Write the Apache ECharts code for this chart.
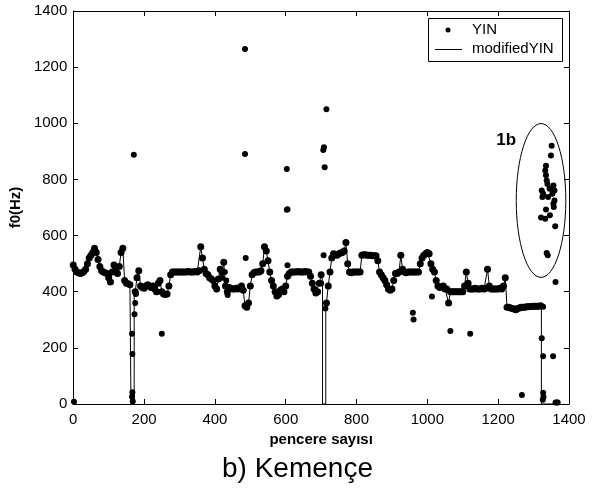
<!DOCTYPE html>
<html>
<head>
<meta charset="utf-8">
<script src="https://cdn.jsdelivr.net/npm/echarts@6/dist/echarts.min.js"></script>
<style>
  html, body { margin: 0; padding: 0; background: #fff; }
  #chart { width: 595px; height: 489px; }
</style>
</head>
<body>
<div id="chart"></div>
<script>
// YIN pitch track: one estimate every 5 frames (frame 0 .. 1320), Hz; null where the track drops out
const frameStep = 5;
const yinTrack = [
  495, 480, 470, 468, 465, 468, 472, 480, 500, 520,
  530, 540, 555, 540, 515, 490, 475, 470, 468, 465,
  450, 435, 470, 495, 480, 465, 490, 540, 555, 440,
  430, 428, 425, null, null, 400, 450, 475, 420, 415,
  412, 420, 425, 420, 415, 420, 410, 400, 430, 440,
  400, 392, 390, 392, 420, 460, 470, 470, 470, 470,
  470, 470, 470, 470, 470, 472, 470, 470, 470, 472,
  470, 475, 560, 520, 480, 465, 460, 450, 445, 440,
  420, 410, 445, 480, 470, 505, 420, 400, 415, 412,
  410, 410, 412, 410, 415, 420, 405, 350, 345, 360,
  420, 460, 468, 470, 470, 470, 475, 500, 560, 545,
  510, 470, 440, 420, 400, 385, 390, 405, 410, 400,
  420, 455, 465, 470, 470, 470, 470, 472, 470, 470,
  470, 472, 470, 470, 455, 430, 410, 395, 400, 430,
  460, null, null, 360, 420, 470, 520, 535, 532, 530,
  535, 538, 540, 545, 575, 500, 470, 468, 470, 470,
  470, 470, 470, 530, 532, 532, 530, 530, 530, 528,
  528, 528, 510, 470, 460, 450, 440, 425, 410, 405,
  410, 440, 465, 465, 470, 530, 480, 470, 468, 470,
  470, 470, 470, 470, 470, 470, 500, 520, 530, 535,
  540, 535, 500, 480, 470, 440, 420, 415, 418, 420,
  410, 410, 360, 400, 400, 400, 400, 400, 400, 400,
  400, 420, 470, 430, 410, 410, 410, 412, 410, 410,
  410, 412, 410, 412, 480, 420, 410, 410, 410, 410,
  410, 412, 410, 420, 450, 345, 345, 342, 340, 338,
  336, 340, 342, 345, 345, 345, 346, 346, 347, 347,
  348, 348, 348, 348, 350
];

// YIN estimates away from the main track: octave errors, drop-outs and the 1b cluster [frame, Hz]
const yinScattered = [
  [2, 8], [166, 250], [167, 178], [167, 42], [166, 26], [168, 10],
  [173, 320], [175, 360], [177, 392], [171, 888], [250, 250],
  [420, 450], [428, 470], [432, 440], [436, 388],
  [485, 1265], [485, 891], [487, 520], [603, 837], [603, 692], [605, 694], [605, 494],
  [700, 430], [707, 530], [708, 915], [706, 905], [710, 843], [715, 1050], [712, 340],
  [959, 325], [961, 301], [1013, 383], [1065, 260], [1121, 250], [1267, 32],
  [1323, 234], [1327, 346], [1327, 170], [1355, 170], [1327, 40], [1328, 25], [1326, 15],
  [1362, 5], [1366, 5], [1368, 5], [1362, 435], [1337, 538], [1340, 530],
  [1351, 920], [1349, 885], [1335, 849], [1333, 832], [1335, 815], [1337, 796],
  [1339, 784], [1356, 778], [1345, 767], [1359, 761], [1323, 761], [1327, 749],
  [1353, 749], [1341, 737], [1325, 737], [1359, 725], [1356, 713], [1357, 702],
  [1335, 693], [1346, 672], [1321, 664], [1333, 660], [1361, 633]
];

// Where the modified YIN contour falls to 0 Hz [frame, Hz]
const modifiedDrops = [
  [163, 425], [163, 0], [172, 0], [172, 390],
  [704, 440], [704, 0], [713, 0], [713, 345],
  [1322, 350], [1322, 0], [1370, 0]
];

// Axis ranges
const xRange = { min: 0, max: 1400, step: 200 };
const yRange = { min: 0, max: 1400, step: 200 };

// Marked region "1b" (centre and half-extent in frame / Hz units)
const regionLabel = '1b';
const regionCentre = [1321, 725];
const regionHalf = [70, 274];

const trackPoints = [];
yinTrack.forEach(function (v, i) { if (v !== null) trackPoints.push([i * frameStep, v]); });

const modifiedPoints = trackPoints.concat(modifiedDrops)
  .map(function (p, i) { return { p: p, i: i }; })
  .sort(function (a, b) { return a.p[0] - b.p[0] || a.i - b.i; })
  .map(function (o) { return o.p; });

const FONT = 'Liberation Sans, Arial, Helvetica, sans-serif';

const chart = echarts.init(document.getElementById('chart'), null, { renderer: 'canvas' });

function boxAxis(pos, show, range) {
  return {
    type: 'value', position: pos, min: range.min, max: range.max, interval: range.step,
    splitLine: { show: false },
    axisLine: { show: true, onZero: false, lineStyle: { color: '#000', width: 1 } },
    axisTick: { show: true, inside: true, length: 5, lineStyle: { color: '#000' } },
    axisLabel: { show: show, color: '#000', fontFamily: FONT, fontSize: 15,
                 margin: pos === 'bottom' ? 8 : 6,
                 formatter: function (v) { return String(v); } }
  };
}

const xBottom = boxAxis('bottom', true, xRange);
xBottom.name = 'pencere sayısı';
xBottom.nameLocation = 'middle';
xBottom.nameGap = 26;
xBottom.nameTextStyle = { color: '#000', fontFamily: FONT, fontSize: 15, fontWeight: 'bold' };

const yLeft = boxAxis('left', true, yRange);
yLeft.name = 'f0(Hz)';
yLeft.nameLocation = 'middle';
yLeft.nameGap = 46;
yLeft.nameRotate = 90;
yLeft.nameTextStyle = { color: '#000', fontFamily: FONT, fontSize: 15, fontWeight: 'bold' };

const option = {
  animation: false,
  backgroundColor: '#fff',
  title: {
    text: 'b) Kemençe', left: 'center', top: 450,
    textStyle: { color: '#000', fontFamily: FONT, fontSize: 28, fontWeight: 'normal' }
  },
  grid: { left: 72, top: 11, width: 497, height: 393 },
  xAxis: [xBottom, boxAxis('top', false, xRange)],
  yAxis: [yLeft, boxAxis('right', false, yRange)],
  series: [
    {
      name: 'modifiedYIN', type: 'line', data: modifiedPoints,
      showSymbol: false, symbol: 'none',
      lineStyle: { color: '#000', width: 1 }, z: 2
    },
    {
      // densely overlapping frames along the main track
      name: 'YIN', type: 'scatter', data: trackPoints,
      symbol: 'circle', symbolSize: 7,
      itemStyle: { color: '#000', opacity: 1 }, z: 3
    },
    {
      name: 'YIN', type: 'scatter', data: yinScattered,
      symbol: 'circle', symbolSize: 6,
      itemStyle: { color: '#000', opacity: 1 }, z: 3
    }
  ]
};

chart.setOption(option);

// Annotation ellipse, its label and the boxed legend
const c = chart.convertToPixel({ gridIndex: 0 }, regionCentre);
const e = chart.convertToPixel({ gridIndex: 0 }, [regionCentre[0] + regionHalf[0], regionCentre[1] + regionHalf[1]]);
const rx = Math.abs(e[0] - c[0]);
const ry = Math.abs(c[1] - e[1]);

chart.setOption({
  graphic: [
    {
      type: 'ellipse', shape: { cx: c[0], cy: c[1], rx: rx, ry: ry },
      style: { fill: null, stroke: '#000', lineWidth: 1 }, z: 10
    },
    {
      type: 'text', x: c[0] - rx - 10, y: c[1] - ry + 17,
      style: { text: regionLabel, fill: '#000', font: 'bold 17px ' + FONT, align: 'center', verticalAlign: 'middle' },
      z: 10
    },
    {
      type: 'rect', shape: { x: 428.5, y: 18.5, width: 134, height: 43 },
      style: { fill: '#fff', stroke: '#000', lineWidth: 1 }, z: 20
    },
    {
      type: 'circle', shape: { cx: 448, cy: 30, r: 2.5 },
      style: { fill: '#000' }, z: 21
    },
    {
      type: 'text', x: 472, y: 30,
      style: { text: 'YIN', fill: '#000', font: '15px ' + FONT, verticalAlign: 'middle' }, z: 21
    },
    {
      type: 'line', shape: { x1: 435, y1: 49.5, x2: 462, y2: 49.5 },
      style: { stroke: '#000', lineWidth: 1 }, z: 21
    },
    {
      type: 'text', x: 472, y: 49,
      style: { text: 'modifiedYIN', fill: '#000', font: '15px ' + FONT, verticalAlign: 'middle' }, z: 21
    }
  ]
});
</script>
</body>
</html>
